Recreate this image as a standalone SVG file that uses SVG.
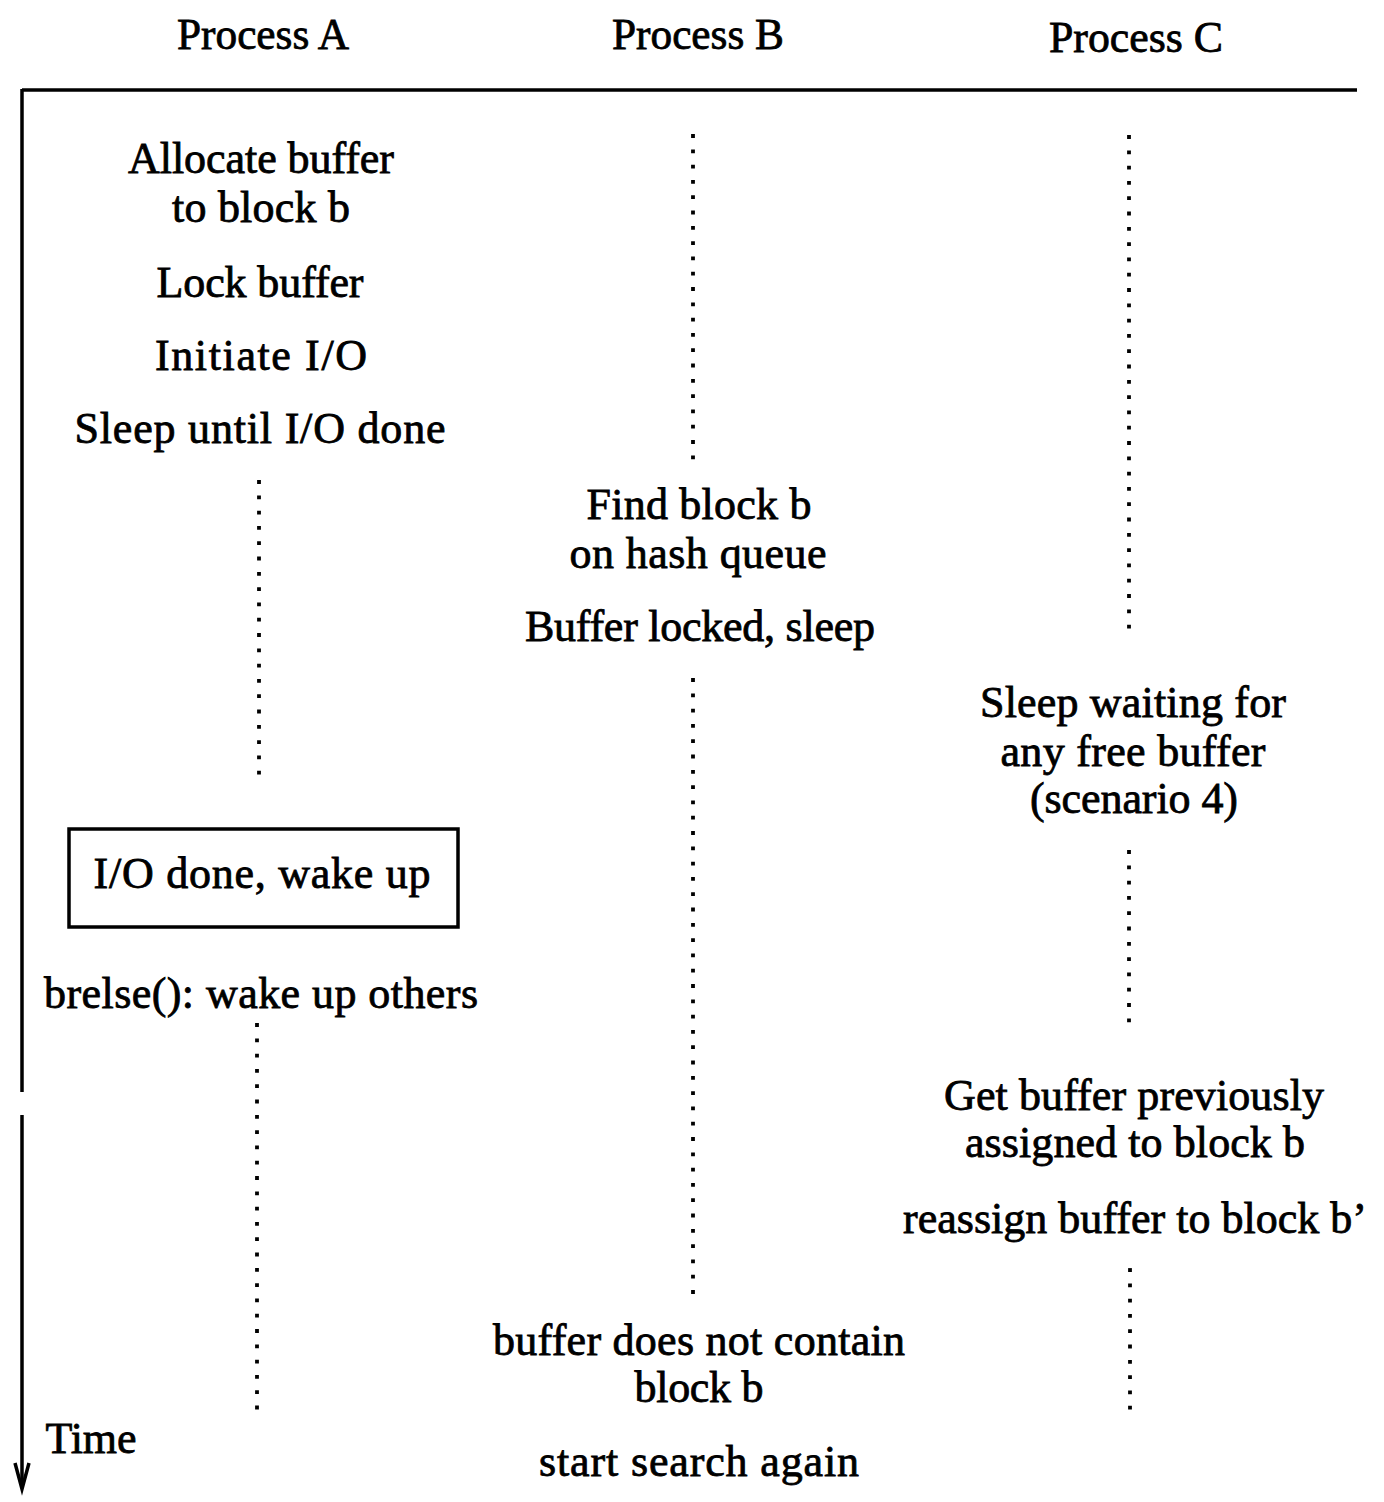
<svg xmlns="http://www.w3.org/2000/svg" width="1384" height="1502" viewBox="0 0 1384 1502">
<style>
text{font-family:"Liberation Serif","Times New Roman",serif;font-size:44px;fill:#000;stroke:#000;stroke-width:0.8;text-anchor:middle}
.dot{stroke:#000;stroke-width:3.8;stroke-linecap:square;stroke-dasharray:0 15.3;fill:none}
.axis{stroke:#000;stroke-width:3.5;fill:none}
</style>
<rect width="1384" height="1502" fill="#fff"/>
<g id="axes">
<line class="axis" x1="22" y1="90" x2="1357" y2="90"/>
<line class="axis" x1="22" y1="89" x2="22" y2="1092"/>
<line class="axis" x1="22" y1="1115" x2="22" y2="1488"/>
<polyline class="axis" points="15,1463 22,1489 29,1463"/>
</g>
<g id="headers">
<text x="263" y="49" textLength="172" lengthAdjust="spacingAndGlyphs">Process A</text>
<text x="698" y="49" textLength="172" lengthAdjust="spacingAndGlyphs">Process B</text>
<text x="1136" y="52" textLength="174" lengthAdjust="spacingAndGlyphs">Process C</text>
</g>
<g id="connectors">
<line class="dot" x1="693" y1="136" x2="693" y2="459"/>
<line class="dot" x1="1129" y1="137" x2="1129" y2="637"/>
<line class="dot" x1="259" y1="482" x2="259" y2="782"/>
<line class="dot" x1="693" y1="680" x2="693" y2="1297"/>
<line class="dot" x1="1129" y1="852" x2="1129" y2="1027"/>
<line class="dot" x1="257" y1="1025" x2="257" y2="1422"/>
<line class="dot" x1="1130" y1="1270" x2="1130" y2="1422"/>
</g>
<g id="a-allocate">
<text x="261" y="173" textLength="266" lengthAdjust="spacing">Allocate buffer</text>
<text x="261" y="222" textLength="178" lengthAdjust="spacing">to block b</text>
</g>
<g id="a-lock"><text x="260" y="297" textLength="207" lengthAdjust="spacing">Lock buffer</text></g>
<g id="a-initiate"><text x="261" y="370" textLength="212" lengthAdjust="spacing">Initiate I/O</text></g>
<g id="a-sleep"><text x="260" y="443" textLength="371" lengthAdjust="spacing">Sleep until I/O done</text></g>
<g id="b-find">
<text x="699" y="519" textLength="225" lengthAdjust="spacing">Find block b</text>
<text x="698" y="568" textLength="257" lengthAdjust="spacing">on hash queue</text>
</g>
<g id="b-locked"><text x="700" y="641" textLength="350" lengthAdjust="spacing">Buffer locked, sleep</text></g>
<g id="c-sleep">
<text x="1133" y="717" textLength="306" lengthAdjust="spacing">Sleep waiting for</text>
<text x="1133" y="766" textLength="265" lengthAdjust="spacing">any free buffer</text>
<text x="1134" y="813" textLength="208" lengthAdjust="spacing">(scenario 4)</text>
</g>
<g id="a-iodone">
<rect x="69" y="829" width="389" height="98" fill="none" stroke="#000" stroke-width="3.5"/>
<text x="262" y="888" textLength="337" lengthAdjust="spacing">I/O done, wake up</text>
</g>
<g id="a-brelse"><text x="261" y="1008" textLength="434" lengthAdjust="spacing">brelse(): wake up others</text></g>
<g id="c-get">
<text x="1134" y="1110" textLength="380" lengthAdjust="spacing">Get buffer previously</text>
<text x="1135" y="1157" textLength="340" lengthAdjust="spacing">assigned to block b</text>
</g>
<g id="c-reassign"><text x="1135" y="1233" textLength="464" lengthAdjust="spacing">reassign buffer to block b’</text></g>
<g id="b-notcontain">
<text x="699" y="1355" textLength="412" lengthAdjust="spacing">buffer does not contain</text>
<text x="699" y="1402" textLength="129" lengthAdjust="spacing">block b</text>
</g>
<g id="b-again"><text x="699" y="1476" textLength="320" lengthAdjust="spacing">start search again</text></g>
<g id="time"><text x="91" y="1453" textLength="91" lengthAdjust="spacing">Time</text></g>
</svg>
